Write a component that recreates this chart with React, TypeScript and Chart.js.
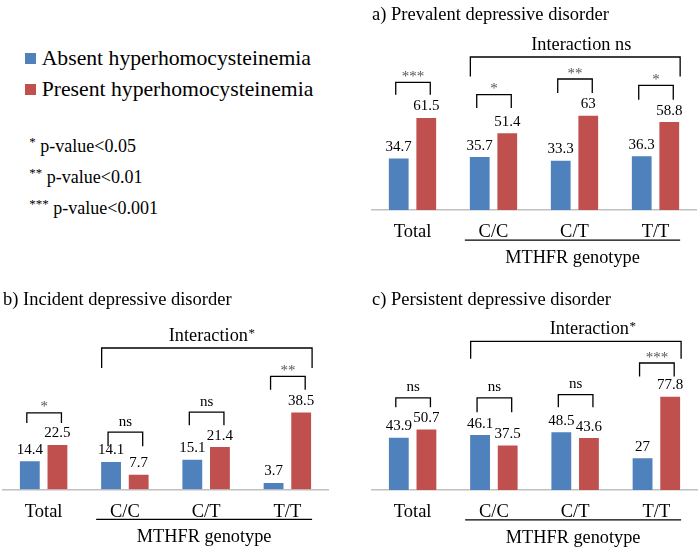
import React, { useEffect, useRef } from "react";
import { Chart, registerables } from "chart.js";

Chart.register(...registerables);

const FONT = "'Liberation Serif', 'Times New Roman', Times, serif";
const BLUE = "#4F81BD";
const RED = "#C0504D";

// ---- data ----
const categories = ["Total", "C/C", "C/T", "T/T"];
const groupAxisLabel = "MTHFR genotype";
const seriesNames = ["Absent hyperhomocysteinemia", "Present hyperhomocysteinemia"];
const panelTitles = [
  "a) Prevalent depressive disorder",
  "b) Incident depressive disorder",
  "c) Persistent depressive disorder",
];

const prevalentAbsent = [34.7, 35.7, 33.3, 36.3];
const prevalentPresent = [61.5, 51.4, 63, 58.8];
const incidentAbsent = [14.4, 14.1, 15.1, 3.7];
const incidentPresent = [22.5, 7.7, 21.4, 38.5];
const persistentAbsent = [43.9, 46.1, 48.5, 27];
const persistentPresent = [50.7, 37.5, 43.6, 77.8];

const prevalentSig = ["***", "*", "**", "*"];
const incidentSig = ["*", "ns", "ns", "**"];
const persistentSig = ["ns", "ns", "ns", "***"];
const interactionSig = ["ns", "*", "*"];

const pValueStars = ["*", "**", "***"];
const pValueThresholds = ["p-value<0.05", "p-value<0.01", "p-value<0.001"];

const panelAbsent = [prevalentAbsent, incidentAbsent, persistentAbsent];
const panelPresent = [prevalentPresent, incidentPresent, persistentPresent];
const panelSig = [prevalentSig, incidentSig, persistentSig];

// ---- layout (positions / sizes only) ----
const panelLayouts = [
  {
    left: 350, top: 0, width: 350, height: 280, yMax: 120,
    pad: { left: 22, right: 4, top: 0, bottom: 26.1 },
    titlePad: { top: 4.2, bottom: 2.0 }, tickPad: 10.8,
    legGap: [22.3, 24.3, 21.7, 21.4], topGap: [34.6, 37.6, 35.7, 35.7],
    interTop: 22, interLeg: 2.6, interDx: 6,
  },
  {
    left: 0, top: 280, width: 350, height: 276, yMax: 85,
    pad: { left: 3, right: 22, top: 0, bottom: 21.4 },
    titlePad: { top: 9.2, bottom: 6.05 }, tickPad: 11.5,
    legGap: [21, 14.7, 20.9, 21.8], topGap: [31, 28.7, 33.9, 35.1],
    interTop: 28.4, interLeg: 8.4, interDx: 4.7,
  },
  {
    left: 350, top: 280, width: 350, height: 276, yMax: 140,
    pad: { left: 22, right: 3, top: 0, bottom: 21.9 },
    titlePad: { top: 9.2, bottom: 9.0 }, tickPad: 11,
    legGap: [21.2, 21.8, 23.9, 19.3], topGap: [30.6, 36.2, 36.6, 32.7],
    interTop: 21.6, interLeg: 4.3, interDx: 16.7,
  },
];

function makeAnnotPlugin(idx: number) {
  const L = panelLayouts[idx];
  const sig = panelSig[idx];
  const inter = interactionSig[idx];
  return {
    id: "annot" + idx,
    afterDraw(chart: any) {
      const ctx = chart.ctx as CanvasRenderingContext2D;
      const m0 = chart.getDatasetMeta(0).data as any[];
      const m1 = chart.getDatasetMeta(1).data as any[];
      const ds = chart.data.datasets;
      const area = chart.chartArea;
      ctx.save();

      // value labels
      ctx.textAlign = "center";
      ctx.textBaseline = "alphabetic";
      ctx.font = `15px ${FONT}`;
      ctx.fillStyle = "#000";
      [m0, m1].forEach((meta, di) =>
        meta.forEach((bar: any, j: number) => {
          ctx.fillText(String(ds[di].data[j]), bar.x, bar.y - 6.5);
        })
      );

      // group brackets
      ctx.strokeStyle = "#000";
      ctx.lineWidth = 1.3;
      const tops: number[] = [];
      for (let j = 0; j < m0.length; j++) {
        const b = m0[j];
        const r = m1[j];
        const maxTop = Math.min(b.y, r.y);
        const legY = maxTop - L.legGap[j];
        const topY = maxTop - L.topGap[j];
        if (j > 0) tops.push(topY);
        const x1 = b.x - 3;
        const x2 = r.x + 4;
        ctx.beginPath();
        ctx.moveTo(x1, legY);
        ctx.lineTo(x1, topY);
        ctx.lineTo(x2, topY);
        ctx.lineTo(x2, legY);
        ctx.stroke();
        const s = sig[j];
        if (s === "ns") {
          ctx.font = `15px ${FONT}`;
          ctx.fillStyle = "#000";
          ctx.fillText(s, (x1 + x2) / 2, topY - 6.5);
        } else {
          ctx.font = `15px ${FONT}`;
          ctx.fillStyle = "#555";
          ctx.fillText(s, (x1 + x2) / 2, topY - 1.5);
        }
      }

      // interaction bracket
      const minTop = Math.min(...tops);
      const iTop = minTop - L.interTop;
      const iLeg = minTop - L.interLeg;
      const ix1 = m0[1].x - m0[1].width / 2 + 1.5;
      const ix2 = m1[3].x + m1[3].width / 2;
      ctx.strokeStyle = "#000";
      ctx.beginPath();
      ctx.moveTo(ix1, iLeg);
      ctx.lineTo(ix1, iTop);
      ctx.lineTo(ix2, iTop);
      ctx.lineTo(ix2, iLeg);
      ctx.stroke();

      const cx = (ix1 + ix2) / 2 + L.interDx;
      const ty = iTop - 7.5;
      ctx.fillStyle = "#000";
      if (inter === "ns") {
        ctx.font = `18.3px ${FONT}`;
        ctx.textAlign = "center";
        ctx.fillText("Interaction ns", cx, ty);
      } else {
        ctx.font = `18.3px ${FONT}`;
        const w1 = ctx.measureText("Interaction").width;
        ctx.font = `13px ${FONT}`;
        const w2 = ctx.measureText(inter).width;
        const start = cx - (w1 + w2) / 2;
        ctx.textAlign = "left";
        ctx.font = `18.3px ${FONT}`;
        ctx.fillText("Interaction", start, ty);
        ctx.font = `13px ${FONT}`;
        ctx.fillText(inter, start + w1 + 0.5, ty - 4);
      }

      // genotype group line + label
      const gx1 = m0[1].x - m0[1].width / 2 - 4;
      const gx2 = m1[3].x + m1[3].width / 2;
      const gy = area.bottom + 30;
      ctx.strokeStyle = "#000";
      ctx.lineWidth = 1.3;
      ctx.beginPath();
      ctx.moveTo(gx1, gy);
      ctx.lineTo(gx2, gy);
      ctx.stroke();
      ctx.font = `18.3px ${FONT}`;
      ctx.textAlign = "center";
      ctx.textBaseline = "middle";
      ctx.fillStyle = "#000";
      ctx.fillText(groupAxisLabel, (gx1 + gx2) / 2, area.bottom + 48);

      ctx.restore();
    },
  };
}

function Panel({ idx }: { idx: number }) {
  const ref = useRef<HTMLCanvasElement | null>(null);
  const L = panelLayouts[idx];
  useEffect(() => {
    if (!ref.current) return;
    const chart = new Chart(ref.current, {
      type: "bar",
      data: {
        labels: categories,
        datasets: [
          {
            label: seriesNames[0],
            data: panelAbsent[idx],
            backgroundColor: BLUE,
            borderColor: "rgba(255,255,255,0.35)",
            borderWidth: 1,
            categoryPercentage: 0.68,
            barPercentage: 0.79,
          },
          {
            label: seriesNames[1],
            data: panelPresent[idx],
            backgroundColor: RED,
            borderColor: "rgba(255,255,255,0.35)",
            borderWidth: 1,
            categoryPercentage: 0.68,
            barPercentage: 0.79,
          },
        ],
      },
      options: {
        responsive: false,
        animation: false,
        devicePixelRatio: 1,
        layout: { padding: L.pad },
        scales: {
          x: {
            grid: { display: false, drawTicks: false },
            border: { display: true, color: "#C0C0C0", width: 1.5 },
            ticks: {
              font: { family: FONT, size: 18.5 },
              color: "#000",
              padding: L.tickPad,
              maxRotation: 0,
              autoSkip: false,
            },
          },
          y: { display: false, min: 0, max: L.yMax },
        },
        plugins: {
          legend: { display: false },
          tooltip: { enabled: false },
          title: {
            display: true,
            text: panelTitles[idx],
            align: "start",
            color: "#000",
            font: { family: FONT, size: 18.5, weight: "normal" },
            padding: L.titlePad,
          },
        },
      } as any,
      plugins: [makeAnnotPlugin(idx)],
    });
    return () => chart.destroy();
  }, [idx]);
  return (
    <canvas
      ref={ref}
      width={L.width}
      height={L.height}
      style={{ position: "absolute", left: L.left, top: L.top, width: L.width, height: L.height }}
    />
  );
}

export default function App() {
  const colors = [BLUE, RED];
  return (
    <div
      style={{
        position: "absolute",
        left: 0,
        top: 0,
        width: 700,
        height: 556,
        background: "#fff",
        fontFamily: FONT,
        color: "#000",
        overflow: "hidden",
      }}
    >
      {seriesNames.map((name, i) => (
        <React.Fragment key={name}>
          <div
            style={{
              position: "absolute",
              left: 25,
              top: 52.7 + i * 31.5,
              width: 11,
              height: 11,
              background: colors[i],
            }}
          />
          <div
            style={{
              position: "absolute",
              left: 41.7,
              top: 46 + i * 31.2,
              fontSize: 21.7,
              lineHeight: "24px",
              whiteSpace: "pre",
            }}
          >
            {name}
          </div>
        </React.Fragment>
      ))}
      {pValueStars.map((s, i) => (
        <div
          key={s}
          style={{
            position: "absolute",
            left: 29.3,
            top: 135 + i * 31,
            fontSize: 18,
            lineHeight: "22px",
            whiteSpace: "pre",
          }}
        >
          <span style={{ fontSize: 13, verticalAlign: "6px", lineHeight: 0 }}>{s}</span>
          {" " + pValueThresholds[i]}
        </div>
      ))}
      <Panel idx={0} />
      <Panel idx={1} />
      <Panel idx={2} />
    </div>
  );
}
